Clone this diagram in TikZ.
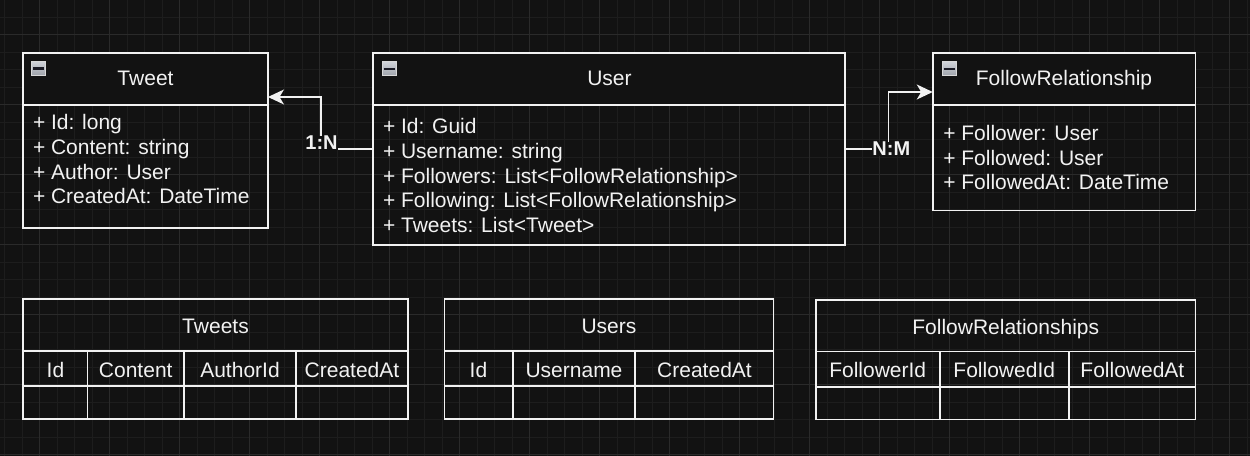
\documentclass[tikz,border=0pt]{standalone}
\usepackage{fontspec}
\setmainfont{Liberation Sans}
\usetikzlibrary{arrows.meta}
\definecolor{bg}{HTML}{121212}
\definecolor{gridminor}{HTML}{1D1D1D}
\definecolor{gridmajor}{HTML}{2A2A2A}
\definecolor{fg}{HTML}{F2F2F2}
\definecolor{iconborder}{HTML}{D8D8D8}
\definecolor{icontop}{HTML}{CFD2D8}
\definecolor{iconbot}{HTML}{9EA2AA}
\definecolor{iconbar}{HTML}{1A1A24}
\begin{document}
\begin{tikzpicture}[x=1bp,y=-1bp,
  every node/.style={inner sep=0pt, outer sep=0pt, text=fg, font=\fontsize{21bp}{24bp}\selectfont},
  classbox/.style={draw=fg, line width=1.5bp, rectangle,
    path picture={\fill[bg] (path picture bounding box.north west) rectangle ([yshift=-52bp]path picture bounding box.north east);}},
  tablebox/.style={draw=fg, line width=1.5bp, rectangle},
  rule/.style={draw=fg, line width=1.5bp},
  title/.style={anchor=base},
  attr/.style={anchor=base west},
  colhead/.style={anchor=base},
  icon/.style={draw=iconborder, line width=1bp, top color=icontop, bottom color=iconbot, minimum size=14bp, rectangle},
  iconminus/.style={draw=iconbar, line width=2.2bp},
  conn/.style={draw=fg, line width=1.5bp},
  arr/.style={-{Stealth[length=16bp, width=15bp, inset=4.5bp]}},
  lbl/.style={fill=bg, inner sep=0.6bp, font=\fontsize{20bp}{22bp}\selectfont\bfseries}
]
% background and grid
\fill[bg] (0,0) rectangle (1250,456);
\useasboundingbox (0,0) rectangle (1250,456);
\foreach \x in {4.5,22,...,1250} \draw[gridminor, line width=1bp] (\x,0) -- (\x,456);
\foreach \y in {17.5,35,...,456} \draw[gridminor, line width=1bp] (0,\y) -- (1250,\y);
\foreach \x in {39.5,109.5,...,1250} \draw[gridmajor, line width=1bp] (\x,0) -- (\x,456);
\foreach \y in {35,105,...,456} \draw[gridmajor, line width=1bp] (0,\y) -- (1250,\y);

% ---------- class boxes ----------
\node[classbox, minimum width=245bp, minimum height=175bp] (tweet) at (145.5,140.5) {};
\node[classbox, minimum width=472bp, minimum height=192bp] (user) at (609,149) {};
\node[classbox, minimum width=262.5bp, minimum height=157.5bp] (fr) at (1064,132) {};
\draw[rule] (tweet.west |- 0,105) -- (tweet.east |- 0,105);
\draw[rule] (user.west |- 0,105) -- (user.east |- 0,105);
\draw[rule] (fr.west |- 0,105) -- (fr.east |- 0,105);

% collapse icons
\node[icon] (tweetIcon) at (38.5,68.5) {};
\draw[iconminus] ([xshift=-5.5bp]tweetIcon.center) -- ([xshift=5.5bp]tweetIcon.center);
\node[icon] (userIcon) at (389,69) {};
\draw[iconminus] ([xshift=-5.5bp]userIcon.center) -- ([xshift=5.5bp]userIcon.center);
\node[icon] (frIcon) at (949,69) {};
\draw[iconminus] ([xshift=-5.5bp]frIcon.center) -- ([xshift=5.5bp]frIcon.center);

% titles
\node[title] (tweetTitle) at (145.5,86) {Tweet};
\node[title] (userTitle) at (609.5,86) {User};
\node[title] (frTitle) at (1064,86) {FollowRelationship};

% attributes
\node[attr] (ta1) at (33,130) {+ Id: long};
\node[attr] (ta2) at (33,154.6) {+ Content: string};
\node[attr] (ta3) at (33,179.2) {+ Author: User};
\node[attr] (ta4) at (33,203.8) {+ CreatedAt: DateTime};

\node[attr] (ua1) at (383,134) {+ Id: Guid};
\node[attr] (ua2) at (383,158.6) {+ Username: string};
\node[attr] (ua3) at (383,183.2) {+ Followers: List<FollowRelationship>};
\node[attr] (ua4) at (383,207.8) {+ Following: List<FollowRelationship>};
\node[attr] (ua5) at (383,232.4) {+ Tweets: List<Tweet>};

\node[attr] (fa1) at (943.3,140.7) {+ Follower: User};
\node[attr] (fa2) at (943.3,165.2) {+ Followed: User};
\node[attr] (fa3) at (943.3,189.8) {+ FollowedAt: DateTime};

% ---------- connectors ----------
\coordinate (bend1) at (321,97);
\draw[conn, arr] (user.west) -| (bend1) -- (bend1 -| tweet.east);
\node[lbl] (lbl1) at (321.5,143) {1:N};

\coordinate (bend2) at (888.7,92);
\draw[conn, arr] (user.east) -| (bend2) -- (bend2 -| fr.west);
\node[lbl] (lbl2) at (891.3,149) {N:M};

% ---------- tables ----------
% Tweets
\node[tablebox, minimum width=385bp, minimum height=120bp] (tTweets) at (215.5,359) {};
\draw[rule] (tTweets.west |- 0,351) -- (tTweets.east |- 0,351);
\draw[rule] (tTweets.west |- 0,386) -- (tTweets.east |- 0,386);
\foreach \x in {87.5,184,296} \draw[rule] (\x,351) -- (\x,0 |- tTweets.south);
\node[title] (tTweetsTitle) at (215.5,334) {Tweets};
\node[colhead] (tc1) at (55.5,377.3) {Id};
\node[colhead] (tc2) at (135.75,377.3) {Content};
\node[colhead] (tc3) at (240,377.3) {AuthorId};
\node[colhead] (tc4) at (352,377.3) {CreatedAt};

% Users
\node[tablebox, minimum width=329bp, minimum height=120bp] (tUsers) at (609,359) {};
\draw[rule] (tUsers.west |- 0,351) -- (tUsers.east |- 0,351);
\draw[rule] (tUsers.west |- 0,386) -- (tUsers.east |- 0,386);
\foreach \x in {513,635} \draw[rule] (\x,351) -- (\x,0 |- tUsers.south);
\node[title] (tUsersTitle) at (609,333.5) {Users};
\node[colhead] (uc1) at (478.5,377.3) {Id};
\node[colhead] (uc2) at (574,377.3) {Username};
\node[colhead] (uc3) at (704.5,377.3) {CreatedAt};

% FollowRelationships
\node[tablebox, minimum width=379.5bp, minimum height=119.5bp] (tFr) at (1005.75,359.75) {};
\draw[rule] (tFr.west |- 0,351.5) -- (tFr.east |- 0,351.5);
\draw[rule] (tFr.west |- 0,387) -- (tFr.east |- 0,387);
\foreach \x in {940,1069} \draw[rule] (\x,351.5) -- (\x,0 |- tFr.south);
\node[title] (tFrTitle) at (1005.75,335) {FollowRelationships};
\node[colhead] (fc1) at (877.75,377.3) {FollowerId};
\node[colhead] (fc2) at (1004.25,377.3) {FollowedId};
\node[colhead] (fc3) at (1132.4,377.3) {FollowedAt};
\end{tikzpicture}
\end{document}
